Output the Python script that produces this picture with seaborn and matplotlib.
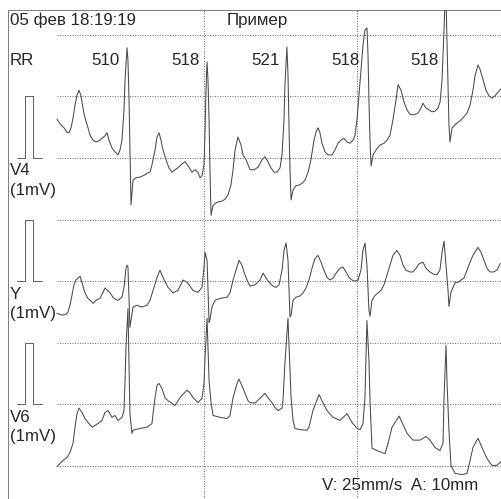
import numpy as np
import pandas as pd
import matplotlib
matplotlib.use("Agg")
import matplotlib.pyplot as plt
import seaborn as sns

# ---------------- data (time in ms, amplitude in mV) ----------------
V4_T = [39, 52, 65, 85, 105, 118, 131, 144, 157, 170,
        183, 196, 209, 222, 242, 255, 275, 294, 314, 333,
        353, 366, 379, 399, 418, 438, 451, 464, 477, 484,
        497, 503, 510, 516, 523, 536, 556, 582, 608, 634,
        647, 660, 680, 693, 706, 719, 732, 752, 771, 791,
        810, 830, 850, 876, 902, 922, 941, 961, 974, 987,
        1000, 1007, 1013, 1020, 1026, 1033, 1039, 1046, 1059, 1078,
        1098, 1118, 1137, 1157, 1176, 1190, 1203, 1222, 1242, 1255,
        1275, 1301, 1327, 1353, 1379, 1399, 1418, 1438, 1458, 1477,
        1497, 1510, 1523, 1529, 1542, 1549, 1556, 1562, 1569, 1582,
        1601, 1621, 1641, 1660, 1680, 1699, 1719, 1732, 1745, 1758,
        1771, 1791, 1810, 1837, 1856, 1876, 1895, 1915, 1935, 1954,
        1974, 1987, 2000, 2013, 2026, 2039, 2052, 2065, 2072, 2078,
        2085, 2092, 2105, 2124, 2150, 2177, 2196, 2216, 2235, 2255,
        2268, 2288, 2307, 2327, 2346, 2373, 2399, 2418, 2431, 2451,
        2471, 2490, 2510, 2529, 2543, 2556, 2562, 2569, 2575, 2582,
        2588, 2595, 2601, 2608, 2621, 2641, 2660, 2680, 2699, 2719,
        2739, 2758, 2771, 2791, 2804, 2824, 2843, 2863, 2882, 2902,
        2922, 2948]
V4_MV = [0.63, 0.58, 0.54, 0.49, 0.42, 0.41, 0.49, 0.65, 0.86, 1.02,
         1.10, 1.01, 0.81, 0.65, 0.49, 0.37, 0.29, 0.26, 0.28, 0.32,
         0.36, 0.41, 0.29, 0.16, 0.10, 0.05, 0.13, 0.29, 0.78, 1.27,
         1.79, 1.59, 0.94, 0.13, -0.76, -0.36, -0.32, -0.31, -0.28, -0.24,
         -0.23, -0.11, 0.13, 0.34, 0.41, 0.29, 0.13, -0.03, -0.16, -0.23,
         -0.19, -0.16, -0.11, -0.06, -0.15, -0.23, -0.19, -0.24, -0.32, -0.29,
         -0.11, 0.45, 1.10, 1.56, 1.27, 0.62, -0.19, -0.93, -0.77, -0.73,
         -0.71, -0.70, -0.67, -0.60, -0.44, -0.19, 0.13, 0.34, 0.21, 0.05,
         -0.03, -0.19, -0.19, -0.15, -0.03, 0.02, -0.06, -0.16, -0.23, -0.23,
         -0.16, 0.05, 0.62, 1.19, 1.80, 1.35, 0.45, -0.19, -0.68, -0.52,
         -0.45, -0.44, -0.41, -0.36, -0.23, -0.03, 0.29, 0.42, 0.49, 0.41,
         0.24, 0.10, 0.05, 0.05, 0.13, 0.24, 0.29, 0.32, 0.26, 0.24,
         0.29, 0.37, 0.62, 1.02, 1.43, 1.83, 2.08, 2.11, 1.67, 0.94,
         0.29, -0.13, 0.05, 0.13, 0.21, 0.24, 0.29, 0.37, 0.62, 0.94,
         1.19, 1.10, 0.91, 0.78, 0.71, 0.70, 0.73, 0.81, 0.89, 0.81,
         0.78, 0.75, 0.76, 0.81, 0.91, 1.27, 1.67, 2.08, 2.55, 2.55,
         1.92, 1.18, 0.54, 0.26, 0.49, 0.54, 0.58, 0.62, 0.67, 0.73,
         0.86, 1.10, 1.33, 1.51, 1.44, 1.27, 1.10, 1.01, 0.97, 1.01,
         1.07, 1.14]

Y_T = [39, 59, 78, 98, 111, 124, 137, 150, 163, 190,
       203, 222, 242, 261, 275, 294, 320, 340, 353, 373,
       386, 405, 418, 438, 464, 477, 490, 497, 503, 510,
       516, 523, 536, 562, 595, 627, 647, 667, 693, 712,
       732, 765, 797, 830, 863, 895, 928, 961, 987, 1000,
       1007, 1020, 1026, 1033, 1039, 1052, 1072, 1105, 1150, 1170,
       1190, 1216, 1229, 1248, 1268, 1288, 1301, 1333, 1366, 1386,
       1412, 1431, 1451, 1471, 1490, 1510, 1523, 1536, 1549, 1556,
       1562, 1569, 1582, 1601, 1627, 1647, 1667, 1686, 1706, 1725,
       1745, 1765, 1784, 1804, 1824, 1843, 1863, 1889, 1908, 1928,
       1948, 1967, 1987, 2007, 2026, 2039, 2052, 2065, 2072, 2078,
       2085, 2098, 2118, 2137, 2157, 2176, 2196, 2216, 2235, 2261,
       2281, 2301, 2320, 2346, 2366, 2386, 2405, 2431, 2451, 2477,
       2503, 2523, 2542, 2556, 2569, 2582, 2595, 2601, 2614, 2641,
       2660, 2680, 2699, 2719, 2739, 2758, 2791, 2810, 2830, 2850,
       2869, 2895, 2915, 2935, 2948]
Y_MV = [-0.52, -0.54, -0.55, -0.54, -0.50, -0.39, -0.23, -0.06, 0.02, 0.08,
        -0.03, -0.19, -0.28, -0.32, -0.36, -0.31, -0.28, -0.18, -0.11, -0.16,
        -0.19, -0.26, -0.29, -0.31, -0.26, -0.10, 0.21, 0.26, 0.23, -0.31,
        -0.75, -0.63, -0.42, -0.39, -0.42, -0.39, -0.31, -0.15, 0.06, 0.18,
        0.06, -0.10, -0.19, -0.15, 0.02, -0.03, -0.15, -0.18, -0.10, 0.23,
        0.47, 0.34, -0.15, -0.67, -0.63, -0.42, -0.31, -0.28, -0.26, -0.19,
        0.02, 0.23, 0.34, 0.26, 0.10, -0.02, -0.08, -0.06, 0.02, 0.13,
        0.03, -0.03, -0.08, -0.10, -0.06, 0.18, 0.50, 0.62, 0.34, -0.15,
        -0.58, -0.55, -0.31, -0.26, -0.24, -0.19, -0.11, 0.02, 0.21, 0.37,
        0.42, 0.31, 0.18, 0.06, 0.02, 0.05, 0.13, 0.21, 0.23, 0.15,
        0.06, 0.02, 0.00, 0.02, 0.18, 0.50, 0.62, 0.26, -0.15, -0.47,
        -0.57, -0.31, -0.23, -0.19, -0.15, -0.06, 0.10, 0.26, 0.42, 0.50,
        0.42, 0.26, 0.18, 0.15, 0.15, 0.21, 0.28, 0.31, 0.21, 0.15,
        0.11, 0.11, 0.18, 0.47, 0.65, 0.26, -0.15, -0.41, -0.18, -0.02,
        -0.02, 0.02, 0.05, 0.18, 0.31, 0.42, 0.55, 0.47, 0.34, 0.21,
        0.15, 0.15, 0.18, 0.28, 0.31]

V6_T = [39, 59, 78, 105, 124, 144, 157, 170, 183, 203,
        222, 242, 268, 288, 307, 333, 353, 373, 399, 418,
        438, 464, 477, 484, 490, 503, 510, 516, 529, 536,
        582, 627, 660, 667, 680, 693, 706, 725, 745, 765,
        791, 810, 830, 856, 889, 908, 928, 961, 987, 1000,
        1007, 1020, 1026, 1033, 1046, 1059, 1105, 1150, 1170, 1190,
        1216, 1229, 1255, 1288, 1301, 1333, 1366, 1399, 1418, 1444,
        1464, 1484, 1510, 1516, 1529, 1549, 1556, 1569, 1582, 1595,
        1627, 1673, 1686, 1712, 1752, 1771, 1804, 1843, 1889, 1935,
        1967, 2000, 2020, 2039, 2052, 2065, 2078, 2085, 2098, 2131,
        2163, 2183, 2203, 2229, 2275, 2294, 2327, 2366, 2412, 2451,
        2477, 2510, 2542, 2562, 2569, 2582, 2588, 2601, 2614, 2641,
        2686, 2719, 2739, 2758, 2791, 2817, 2850, 2882, 2915, 2935,
        2948]
V6_MV = [-1.01, -0.96, -0.91, -0.86, -0.78, -0.63, -0.37, -0.15, -0.06, -0.13,
         -0.23, -0.29, -0.37, -0.34, -0.31, -0.26, -0.13, -0.10, -0.21, -0.18,
         -0.26, -0.21, -0.10, 0.39, 0.93, 1.55, 0.67, -0.15, -0.47, -0.42,
         -0.39, -0.37, -0.31, -0.15, 0.11, 0.31, 0.34, 0.26, 0.11, 0.06,
         0.02, -0.02, 0.06, 0.15, 0.23, 0.19, 0.11, 0.03, 0.10, 0.34,
         0.76, 1.40, 0.93, 0.39, 0.03, -0.18, -0.21, -0.23, -0.18, 0.11,
         0.34, 0.41, 0.26, 0.06, 0.03, 0.02, 0.10, 0.18, 0.11, 0.03,
         -0.05, -0.10, -0.06, 0.06, 0.67, 1.40, 0.93, 0.11, -0.26, -0.39,
         -0.41, -0.42, -0.37, -0.10, 0.16, 0.06, -0.10, -0.21, -0.26, -0.15,
         -0.29, -0.39, -0.41, -0.31, 0.11, 1.36, 0.71, 0.06, -0.71, -0.75,
         -0.78, -0.80, -0.63, -0.37, -0.19, -0.29, -0.47, -0.58, -0.58, -0.52,
         -0.58, -0.70, -0.75, -0.63, 0.11, 0.96, 0.39, -0.42, -0.99, -1.12,
         -1.14, -1.12, -0.91, -0.70, -0.55, -0.70, -0.88, -0.99, -0.99, -0.94,
         -0.91]

LEADS = ["V4", "Y", "V6"]
LEAD_OFFSET_MV = [0.0, -2.0, -4.0]          # vertical separation of the strips
CAL_T = [-222, -170, -170, -118, -118, -59]   # 1 mV calibration pulse
CAL_MV = [0, 0, 1, 1, 0, 0]

R_PEAK_T = [497, 1020, 1542, 2065, 2582]
RR_LABELS = ["510", "518", "521", "518", "518"]

TITLE_DATE = "05 фев 18:19:19"
TITLE_NAME = "Пример"
FOOTER = "V: 25mm/s  A: 10mm"

# ---------------- figure ----------------
sns.set_style("white")
plt.rcParams["font.family"] = ["Liberation Sans", "DejaVu Sans"]

W, H = 502, 499
fig = plt.figure(figsize=(W / 100, H / 100), dpi=100)
ax = fig.add_axes([8 / W, 0, (W - 8) / W, (H - 10) / H])

px_per_ms = 153 / 1000.0
px_per_mv = 61.6
x_left = -43 / px_per_ms
x_right = x_left + (W - 8) / px_per_ms
y_top = 148 / px_per_mv
y_bot = y_top - (H - 10) / px_per_mv
ax.set_xlim(x_left, x_right)
ax.set_ylim(y_bot, y_top)

grid_col = "#707070"
trace_col = "#4a4a4a"
lw = 0.75

# grid
t_start = V4_T[0]
for g in range(2, -6, -1):
    ax.plot([t_start, x_right], [g, g], color=grid_col, lw=lw,
            linestyle=(0, (1, 1.4)), zorder=1)
for vt in (1000, 2000):
    ax.plot([vt, vt], [y_bot, y_top], color=grid_col, lw=lw,
            linestyle=(0, (1, 1.4)), zorder=1)

# traces
frames = []
for name, t, mv, off in zip(LEADS, [V4_T, Y_T, V6_T], [V4_MV, Y_MV, V6_MV], LEAD_OFFSET_MV):
    frames.append(pd.DataFrame({"lead": name, "t": t, "y": np.array(mv) + off}))
df = pd.concat(frames, ignore_index=True)
sns.lineplot(data=df, x="t", y="y", units="lead", estimator=None, sort=False,
             color=trace_col, linewidth=lw, ax=ax, legend=False, zorder=3)

# calibration pulses
for off in LEAD_OFFSET_MV:
    sns.lineplot(x=CAL_T, y=np.array(CAL_MV) + off, sort=False, estimator=None,
                 color="#666666", linewidth=lw, ax=ax, legend=False, zorder=3)

# texts
fs = 12.2
label_x = -268
ax.text(label_x, 2.24, TITLE_DATE, fontsize=fs, ha="left", va="center")
ax.text(1150, 2.24, TITLE_NAME, fontsize=fs, ha="left", va="center")
ax.text(label_x, 1.575, "RR", fontsize=fs, ha="left", va="center")
for rt, lab in zip(R_PEAK_T, RR_LABELS):
    ax.text(rt - 48, 1.575, lab, fontsize=fs, ha="right", va="center")
for name, off in zip(LEADS, LEAD_OFFSET_MV):
    ax.text(label_x, off - 0.21, name, fontsize=fs, ha="left", va="center")
    ax.text(label_x, off - 0.52, "(1mV)", fontsize=fs, ha="left", va="center")
ax.text(1771, -5.31, FOOTER, fontsize=fs, ha="left", va="center")

# frame
ax.set_xticks([])
ax.set_yticks([])
ax.set_xlabel("")
ax.set_ylabel("")
for side in ("right", "bottom"):
    ax.spines[side].set_visible(False)
for side in ("top", "left"):
    ax.spines[side].set_color("#808080")
    ax.spines[side].set_linewidth(lw)

fig.savefig("out.png", dpi=100)
